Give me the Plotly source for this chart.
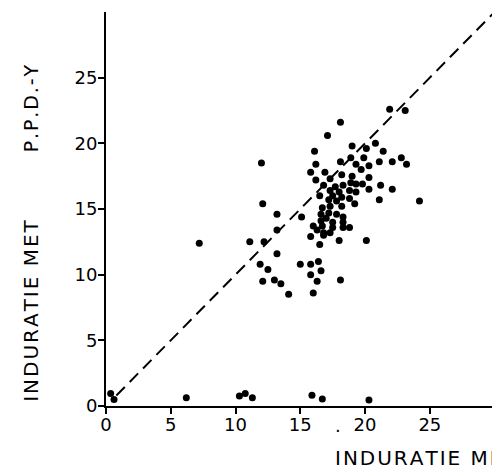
import plotly.graph_objects as go

# Induration values (x: first test, y: P.P.D.-Y)
x_vals = [21.9, 23.1, 18.1, 17.1, 19.0, 20.8, 16.1, 20.1, 21.4, 16.2, 18.1, 18.9, 19.3, 19.9,
          20.3, 21.1, 22.1, 22.8, 23.2, 15.8, 16.9, 19.7, 16.2, 17.3, 18.2, 19.0, 20.3, 16.8,
          17.7, 18.3, 18.9, 19.3, 19.8, 21.2, 22.1, 20.3, 17.3, 18.0, 18.8, 19.3, 16.5, 17.5,
          18.2, 17.2, 17.8, 18.8, 19.2, 21.1, 24.2, 16.7, 17.3, 18.2, 15.1, 16.6, 17.2, 17.8,
          18.3, 16.6, 17.0, 17.5, 18.3, 16.0, 16.7, 17.5, 18.3, 18.8, 16.3, 16.8, 17.3, 15.8,
          16.8, 18.0, 20.1, 16.5, 15.0, 15.8, 16.4, 16.6, 15.8, 18.1, 16.3, 16.0,
          12.0, 12.1, 13.2, 13.2, 11.1, 12.2, 13.2, 11.9, 12.5, 12.1, 13.0, 13.5, 14.1, 7.2,
          0.36, 0.62, 6.2, 10.3, 10.75, 11.3, 15.9, 16.7, 20.3]
y_vals = [22.6, 22.5, 21.6, 20.6, 19.8, 20.0, 19.4, 19.6, 19.4, 18.4, 18.6, 18.9, 18.4, 18.9,
          18.3, 18.6, 18.6, 18.9, 18.4, 17.8, 17.8, 18.0, 17.2, 17.3, 17.6, 17.5, 17.4, 16.8,
          16.7, 16.8, 17.0, 16.9, 16.9, 16.8, 16.5, 16.5, 16.4, 16.3, 16.4, 16.3, 16.0, 16.0,
          15.9, 15.7, 15.6, 15.8, 15.4, 15.7, 15.6, 15.1, 15.2, 15.2, 14.4, 14.6, 14.7, 14.6,
          14.4, 14.1, 14.3, 14.0, 14.0, 13.7, 13.7, 13.6, 13.6, 13.6, 13.4, 13.2, 13.2, 12.9,
          13.0, 12.6, 12.6, 12.3, 10.8, 10.8, 11.0, 10.3, 10.0, 9.6, 9.5, 8.6,
          18.5, 15.4, 14.6, 13.4, 12.5, 12.5, 11.6, 10.8, 10.4, 9.5, 9.6, 9.3, 8.5, 12.4,
          0.96, 0.5, 0.63, 0.76, 0.96, 0.63, 0.81, 0.53, 0.46]

# identity reference line
diag_x = [0.8, 30]
diag_y = [0.8, 30]

tick_vals = [0, 5, 10, 15, 20, 25]
x_tick_text = ["0", "5", "10", "15", "20", "25"]
y_tick_text = ["0", "5", "10", "15", "20", "25"]

FONT = "DejaVu Sans"


def spaced(s, sep="\u200a"):
    """Add letter spacing with hair spaces."""
    return sep.join(s)


fig = go.Figure()
fig.add_trace(go.Scatter(x=diag_x, y=diag_y, mode="lines",
                         line=dict(color="black", width=2, dash="12px,7px"),
                         hoverinfo="skip", showlegend=False))
fig.add_trace(go.Scatter(x=x_vals, y=y_vals, mode="markers",
                         marker=dict(color="black", size=7),
                         showlegend=False))

fig.update_layout(
    width=492, height=467,
    margin=dict(l=106, r=0, t=12, b=61),
    paper_bgcolor="white", plot_bgcolor="white",
    font=dict(family=FONT, color="black", size=18),
    xaxis=dict(range=[0, 29.8], showgrid=False, zeroline=False,
               showline=True, linecolor="black", linewidth=2,
               ticks="outside", ticklen=6, tickwidth=2, tickcolor="black",
               tickvals=tick_vals, ticktext=x_tick_text,
               ticklabelstandoff=-5,
               tickfont=dict(family=FONT, size=18)),
    yaxis=dict(range=[0, 30], showgrid=False, zeroline=False,
               showline=True, linecolor="black", linewidth=2,
               ticks="outside", ticklen=6, tickwidth=2, tickcolor="black",
               tickvals=tick_vals, ticktext=y_tick_text,
               ticklabelstandoff=-3,
               tickfont=dict(family=FONT, size=18)),
    annotations=[
        dict(text=spaced("INDURATIE MET"), textangle=-90,
             xref="paper", yref="paper", x=-0.195, y=0.241,
             xanchor="center", yanchor="middle", showarrow=False,
             font=dict(family=FONT, size=20)),
        dict(text=spaced("P.P.D.-Y"), textangle=-90,
             xref="paper", yref="paper", x=-0.195, y=0.755,
             xanchor="center", yanchor="middle", showarrow=False,
             font=dict(family=FONT, size=19)),
        dict(text=spaced("INDURATIE MET"), xref="paper", yref="paper",
             x=0.588, y=-0.132, xanchor="left", yanchor="middle",
             showarrow=False, font=dict(family=FONT, size=20)),
        dict(text=".", xref="x", yref="paper", x=17.9, y=-0.081,
             xanchor="center", yanchor="bottom", showarrow=False,
             font=dict(family=FONT, size=18)),
    ],
)

fig.write_html("out.html",
               config={"displayModeBar": False},
               post_script="document.body.style.margin='0';"
                           "document.body.style.overflow='hidden';")
